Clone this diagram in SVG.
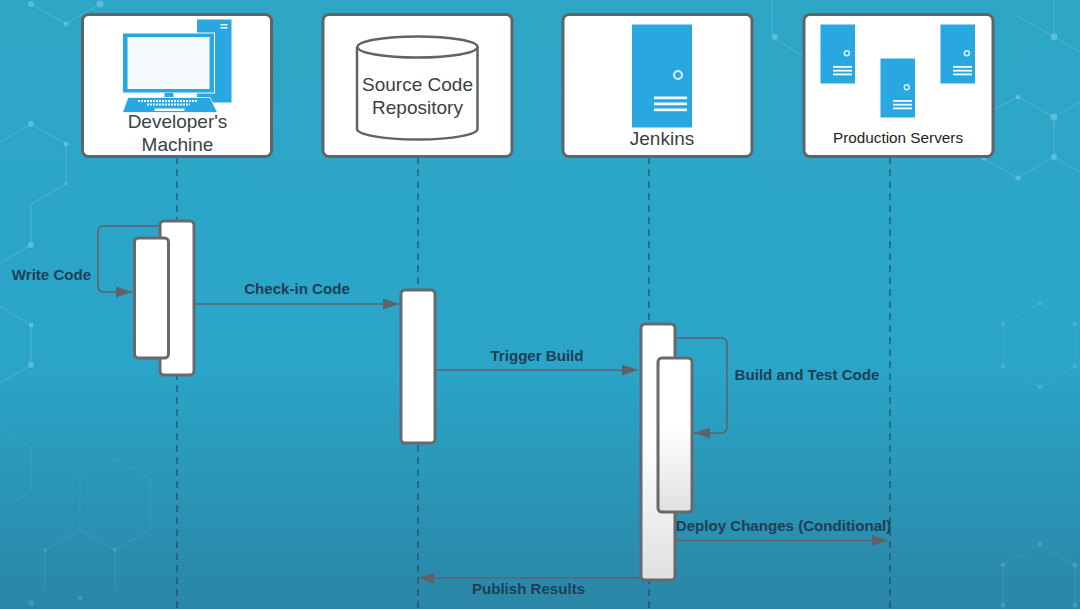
<svg xmlns="http://www.w3.org/2000/svg" width="1080" height="609" viewBox="0 0 1080 609">
<style>
.hex{fill:none;stroke:#6cc4de;stroke-width:1;opacity:.5}
.hexf{fill:none;stroke:#6cc4de;stroke-width:1;opacity:.2}
.hexd{fill:#6cc4de;opacity:.7}
.hexg{fill:#6cc4de;opacity:.3}
.box{fill:#fff;stroke:#5f6469;stroke-width:3}
.bar{stroke:#666a6e;stroke-width:3}
.life{stroke:#1f3f55;stroke-width:1;stroke-dasharray:7 5;fill:none}
.conn{stroke:#5f6367;stroke-width:1.6;fill:none}
.ic{fill:#29a7e1}
.icw{fill:#f4fafe}
.lbl{font-family:"Liberation Sans",Arial,sans-serif;font-size:19px;fill:#3c3f44;text-anchor:middle}
.msg{font-family:"Liberation Sans",Arial,sans-serif;font-size:15.100px;font-weight:bold;fill:#1f3f55;text-anchor:middle}
</style>
<defs>
<linearGradient id="bg" x1="0" y1="0" x2="0" y2="1">
<stop offset="0" stop-color="#2ea6c6"/><stop offset=".6" stop-color="#2aa5c8"/><stop offset="1" stop-color="#2a86a6"/>
</linearGradient>
<linearGradient id="barfill" x1="0" y1="0" x2="0" y2="1">
<stop offset="0" stop-color="#fff"/><stop offset=".45" stop-color="#fff"/><stop offset="1" stop-color="#e0e0e0"/>
</linearGradient>
<marker id="arr" markerWidth="17" markerHeight="11" refX="16" refY="5.500" orient="auto" markerUnits="userSpaceOnUse">
<path d="M0 0L16 5.500L0 11Z" fill="#5f6367"/>
</marker>
<g id="srv">
<rect class="ic" x="0" y="0" width="34.500" height="59"/>
<circle cx="26.300" cy="28.700" r="2.500" fill="none" stroke="#d8effa" stroke-width="1.500"/>
<rect class="icw" x="12.500" y="41.500" width="19" height="1.800"/>
<rect class="icw" x="12.500" y="45.300" width="19" height="1.800"/>
<rect class="icw" x="12.500" y="49" width="19" height="1.800"/>
</g>
</defs>
<rect id="background" width="1080" height="609" fill="url(#bg)"/>
<g id="decor">
<path class="hex" d="M31 4L66 24L100 4M0 142L31 124L66 144V184L31 204V245L0 263M0 306L31 325V365L0 383M772 0V37L806 58M1054 0V37L1080 52M1054 37L1018 16M1018 97L1054 117L1080 102M1054 117V157L1018 178L982 158M1054 157L1080 172M983 115L1018 97"/>
<path class="hexf" d="M1040 303L1075 324V366L1040 387L1003 366V324Z"/>
<path class="hexf" d="M1040 544L1075 565V609M1040 544L1003 565V609M80 475V530L115 550V590M115 458L150 478V530L115 550M80 530L45 550V590M0 428L31 447V490L10 505"/>
<circle class="hexd" cx="31" cy="4" r="3"/><circle class="hexd" cx="66" cy="24" r="2.500"/><circle class="hexd" cx="100" cy="4" r="3.500"/>
<circle class="hexd" cx="31" cy="124" r="3"/><circle class="hexd" cx="66" cy="144" r="2.500"/><circle class="hexg" cx="66" cy="184" r="2"/>
<circle class="hexd" cx="31" cy="245" r="3"/><circle class="hexd" cx="31" cy="325" r="2.500"/><circle class="hexd" cx="31" cy="365" r="3"/>
<circle class="hexd" cx="775" cy="37" r="3"/><circle class="hexd" cx="1054" cy="37" r="3.500"/><circle class="hexd" cx="1018" cy="97" r="2.500"/><circle class="hexd" cx="1054" cy="117" r="3.500"/><circle class="hexd" cx="1054" cy="157" r="3"/><circle class="hexd" cx="1018" cy="178" r="2.500"/><circle class="hexd" cx="984" cy="158" r="2.500"/>
<circle class="hexg" cx="1040" cy="303" r="2.500"/><circle class="hexg" cx="1075" cy="324" r="2.500"/><circle class="hexg" cx="1075" cy="366" r="2.500"/><circle class="hexg" cx="1040" cy="387" r="2.500"/><circle class="hexg" cx="1003" cy="366" r="2.500"/><circle class="hexg" cx="1003" cy="324" r="2.500"/>
<circle class="hexg" cx="1040" cy="544" r="2.500"/><circle class="hexg" cx="1075" cy="565" r="2.500"/><circle class="hexg" cx="1003" cy="565" r="2.500"/><circle class="hexg" cx="1075" cy="605" r="2.500"/><circle class="hexg" cx="1003" cy="605" r="2.500"/>
<circle class="hexg" cx="31" cy="603" r="3"/><circle class="hexg" cx="80" cy="598" r="2.500"/><circle class="hexg" cx="45" cy="550" r="2"/><circle class="hexg" cx="115" cy="550" r="2"/>
</g>
<g id="lifelines">
<path class="life" d="M177 157V609M418 157V609M649 157V609M890 157V609"/>
</g>
<g id="developer-node">
<rect class="box" x="82.500" y="14.500" width="189" height="142" rx="6"/>
<rect class="ic" x="197" y="19.500" width="34.500" height="83"/>
<rect class="icw" x="220.500" y="24" width="7" height="1.500"/><rect class="icw" x="220.500" y="27" width="7" height="1.500"/>
<rect x="122.500" y="33" width="92" height="60" fill="#29a7e1" stroke="#f4fafe" stroke-width="1"/>
<rect class="icw" x="127.500" y="37" width="82" height="52"/>
<rect class="ic" x="164.500" y="93" width="9" height="4"/>
<path class="ic" d="M128 97.500H210L217.500 112.500H122.500Z" stroke="#f4fafe" stroke-width=".8"/>
<path d="M138 101H198M147 104.500H190" stroke="#f4fafe" stroke-width="2" stroke-dasharray="2 1"/>
<rect class="icw" x="154.500" y="108.500" width="30" height="2.500"/>
<text class="lbl" x="177.500" y="128">Developer's</text>
<text class="lbl" x="177.500" y="151">Machine</text>
</g>
<g id="repository-node">
<rect class="box" x="323" y="14.500" width="189" height="142" rx="6"/>
<path d="M357 47V129C357 134 380 139.500 417.500 139.500S477.500 134 477.500 129V47" fill="#fff" stroke="#5f6469" stroke-width="2.500"/>
<ellipse cx="417.500" cy="47" rx="60" ry="10.500" fill="#fff" stroke="#5f6469" stroke-width="2.500"/>
<text class="lbl" x="417.500" y="91">Source Code</text>
<text class="lbl" x="417.500" y="114">Repository</text>
</g>
<g id="jenkins-node">
<rect class="box" x="563" y="14.500" width="189" height="142" rx="6"/>
<rect class="ic" x="632" y="24.500" width="60" height="103"/>
<circle cx="678" cy="75" r="4" fill="none" stroke="#d8effa" stroke-width="2"/>
<rect class="icw" x="654" y="96.500" width="33" height="2.700"/>
<rect class="icw" x="654" y="102.500" width="33" height="2.700"/>
<rect class="icw" x="654" y="108.500" width="33" height="2.700"/>
<text class="lbl" x="662" y="145">Jenkins</text>
</g>
<g id="production-node">
<rect class="box" x="804" y="14.500" width="189" height="142" rx="6"/>
<use href="#srv" x="820.500" y="24.500"/>
<use href="#srv" x="880.500" y="58.500"/>
<use href="#srv" x="940.500" y="24.500"/>
<text class="lbl" style="font-size:15.300px;fill:#1c1e20" x="898" y="142.500">Production Servers</text>
</g>
<g id="connectors">
<path class="conn" d="M160 226H104Q98 226 98 232V286Q98 292 104 292H132" marker-end="url(#arr)"/>
<path class="conn" d="M194 304H399" marker-end="url(#arr)"/>
<path class="conn" d="M435 370H638" marker-end="url(#arr)"/>
<path class="conn" d="M675 338H721Q727 338 727 344V427Q727 433 721 433H694" marker-end="url(#arr)"/>
<path class="conn" d="M675 540.500H888" marker-end="url(#arr)"/>
<path class="conn" d="M641 578H418" marker-end="url(#arr)"/>
</g>
<g id="activation-developer">
<rect class="bar" x="160" y="221" width="34" height="154" rx="4" fill="#fff"/>
<rect class="bar" x="134.500" y="238" width="34" height="120" rx="4" fill="#fff"/>
</g>
<g id="activation-repository">
<rect class="bar" x="401" y="290" width="34" height="153" rx="4" fill="#fff"/>
</g>
<g id="activation-jenkins">
<rect class="bar" x="641" y="324" width="34" height="256" rx="4" fill="url(#barfill)"/>
<rect class="bar" x="658" y="358" width="34" height="154" rx="4" fill="url(#barfill)"/>
</g>
<g id="message-labels">
<text class="msg" x="51.500" y="279.500">Write Code</text>
<text class="msg" x="297" y="293.500">Check-in Code</text>
<text class="msg" x="537" y="360.500">Trigger Build</text>
<text class="msg" x="807" y="380">Build and Test Code</text>
<text class="msg" x="783.500" y="531">Deploy Changes (Conditional)</text>
<text class="msg" x="528.500" y="593.500">Publish Results</text>
</g>
</svg>
